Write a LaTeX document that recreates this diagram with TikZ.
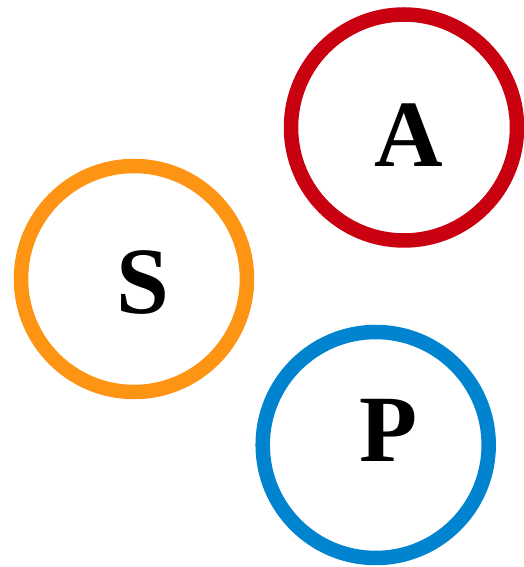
\documentclass[tikz,border=0pt]{standalone}
\usepackage{fontspec}
\setmainfont{Liberation Serif}
\definecolor{cred}{HTML}{C8000F}
\definecolor{corange}{HTML}{FD9414}
\definecolor{cblue}{HTML}{0084D0}
\begin{document}
\begin{tikzpicture}[x=1pt,y=1pt,
  ring/.style={circle,draw,line width=14.5pt,minimum size=226pt,inner sep=0pt},
  letter/.style={anchor=base,inner sep=0pt,font=\fontsize{95}{95}\selectfont\bfseries}]
\useasboundingbox (0,0) rectangle (523,567);
\node[ring,draw=cred] (ca) at (404,439.5) {};
\node[ring,draw=corange] (cs) at (134,288) {};
\node[ring,draw=cblue] (cp) at (375.7,122) {};
\node[letter] (la) at (409,400) {A};
\node[letter] (ls) at (143,253) {S};
\node[letter] (lp) at (389,105) {P};
\end{tikzpicture}
\end{document}
